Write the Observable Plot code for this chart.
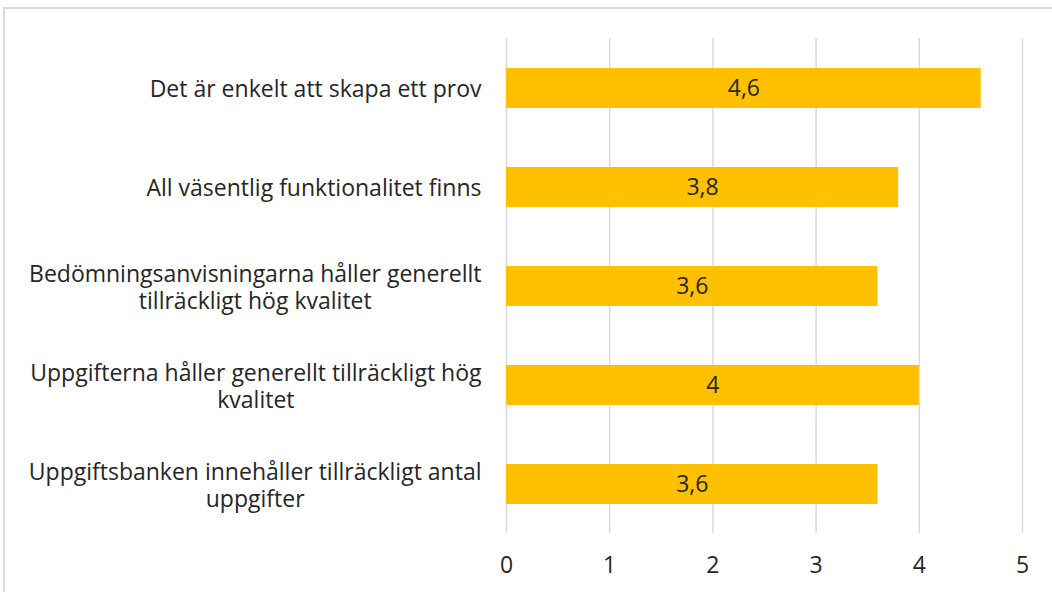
<!DOCTYPE html>
<html><head><meta charset="utf-8">
<script src="https://cdn.jsdelivr.net/npm/d3@7"></script>
<script src="https://cdn.jsdelivr.net/npm/@observablehq/plot@0.6"></script>
<style>
body{margin:0;background:#fff;}
#wrap{position:relative;width:1052px;height:592px;overflow:hidden;background:#fff;}
#border{position:absolute;left:3px;top:7px;width:1100px;height:700px;border:2px solid #d9d9d9;box-sizing:border-box;}
#chart{position:absolute;left:0;top:0;}
</style></head><body>
<div id="wrap"><div id="border"></div><div id="chart"></div></div>
<script>
const categories = [
  "Det är enkelt att skapa ett prov",
  "All väsentlig funktionalitet finns",
  "Bedömningsanvisningarna håller generellt\ntillräckligt hög kvalitet",
  "Uppgifterna håller generellt tillräckligt hög\nkvalitet",
  "Uppgiftsbanken innehåller tillräckligt antal\nuppgifter"
];
const values = [4.6, 3.8, 3.6, 4, 3.6];
const valueLabels = ["4,6", "3,8", "3,6", "4", "3,6"];
const xTicks = [0, 1, 2, 3, 4, 5];

const data = categories.map((c, i) => ({cat: c, value: values[i], label: valueLabels[i]}));

const FONT = "Open Sans";
const FS = 23;
const ctx = document.createElement("canvas").getContext("2d");
ctx.font = `${FS}px "${FONT}"`;
function blockWidth(s) { return Math.max(...s.split("\n").map(l => ctx.measureText(l).width)); }

const labelMarks = categories.map(c => Plot.text([c], {
  y: d => d, text: d => d, frameAnchor: "left", textAnchor: "middle",
  dx: -(25 + blockWidth(c) / 2), lineHeight: 1.18, fontSize: FS, fill: "#262626"
}));

const chart = Plot.plot({
  width: 1052, height: 592,
  marginLeft: 506, marginRight: 30, marginTop: 38, marginBottom: 59,
  style: {fontFamily: `"${FONT}"`, fontSize: FS + "px", color: "#262626", background: "transparent"},
  x: {domain: [0, 5], axis: null},
  y: {domain: categories, paddingInner: 0.6, paddingOuter: 0.3, axis: null},
  marks: [
    Plot.gridX(xTicks, {stroke: "#d9d9d9", strokeOpacity: 1, strokeWidth: 1.5}),
    Plot.barX(data, {x: "value", y: "cat", fill: "#FFC000"}),
    Plot.text(data, {x: d => d.value / 2, y: "cat", text: "label", fontSize: FS, fill: "#262626"}),
    Plot.axisX(xTicks, {tickSize: 0, tickPadding: 23, fontSize: FS, tickFormat: d => String(d), fill: "#262626", label: null}),
    ...labelMarks
  ]
});
document.getElementById("chart").appendChild(chart);
</script>
</body></html>
